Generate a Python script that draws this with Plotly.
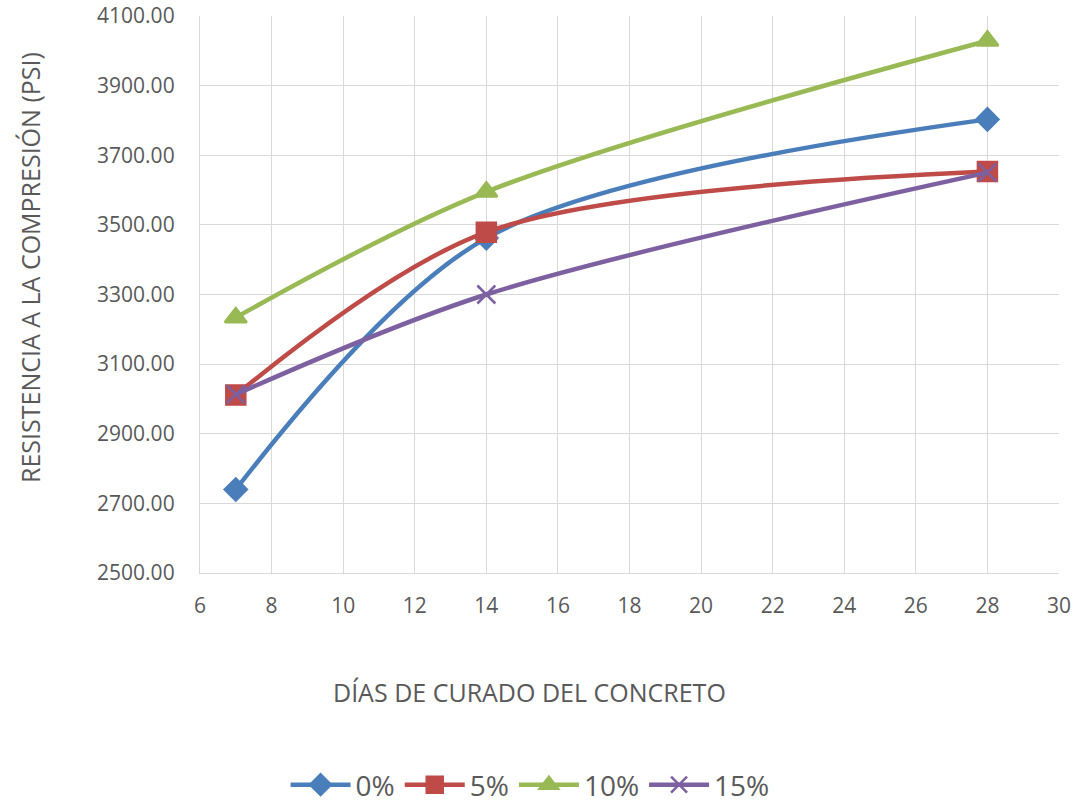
import plotly.graph_objects as go

# Curing age (days) and compressive strength (psi) per replacement level
dias = [7, 14, 28]
serie_0 = [2740, 3462, 3803]
serie_5 = [3011, 3479, 3653]
serie_10 = [3234, 3595, 4029]
serie_15 = [3013, 3300, 3650]

nombres = ["0%", "5%", "10%", "15%"]
colores = ["#4a7ebb", "#be4b48", "#98b954", "#7d60a0"]
simbolos = ["diamond", "square", "triangle-up", "x-thin"]
tamanos = [17, 19, 19, 18]

fig = go.Figure()
for nombre, valores, color, simbolo, tam in zip(
        nombres, [serie_0, serie_5, serie_10, serie_15], colores, simbolos, tamanos):
    fig.add_trace(go.Scatter(
        x=dias, y=valores, name=nombre, mode="lines+markers",
        line=dict(color=color, width=4.5, shape="spline", smoothing=0.9),
        marker=dict(symbol=simbolo, size=tam, color=color,
                    line=dict(color=color, width=2.5)),
    ))

eje = dict(
    showgrid=True, gridcolor="#d9d9d9", gridwidth=1.3,
    showline=True, linecolor="#d9d9d9", linewidth=1.3,
    zeroline=False, ticks="",
    tickfont=dict(size=21, color="#595959"),
)

fig.update_layout(
    width=1084, height=810,
    margin=dict(l=200, r=25, t=16, b=237, autoexpand=False),
    paper_bgcolor="white", plot_bgcolor="white",
    font=dict(family="Open Sans", color="#595959"),
    xaxis=dict(eje, range=[6, 30], dtick=2, tick0=6, ticklabelstandoff=14),
    yaxis=dict(eje, range=[2500, 4100], dtick=200, tick0=2500,
               tickformat=".2f", ticklabelstandoff=20),
    legend=dict(orientation="h", x=0.489, xanchor="center",
                y=-0.008, yanchor="bottom", yref="container", xref="container",
                itemwidth=60, tracegroupgap=0,
                font=dict(size=28, color="#595959")),
    showlegend=True,
    annotations=[
        dict(text="DÍAS DE CURADO DEL CONCRETO", xref="paper", yref="paper",
             x=(529 - 200) / 859, y=(573 - 692) / 557, xanchor="center",
             yanchor="middle", showarrow=False,
             font=dict(size=25, color="#595959")),
        dict(text="RESISTENCIA A LA COMPRESIÓN (PSI)", xref="paper", yref="paper",
             x=(30 - 200) / 859, y=(573 - 268) / 557, xanchor="center",
             yanchor="middle", showarrow=False, textangle=-90,
             font=dict(size=25, color="#595959")),
    ],
)

fig.write_html("out.html")
